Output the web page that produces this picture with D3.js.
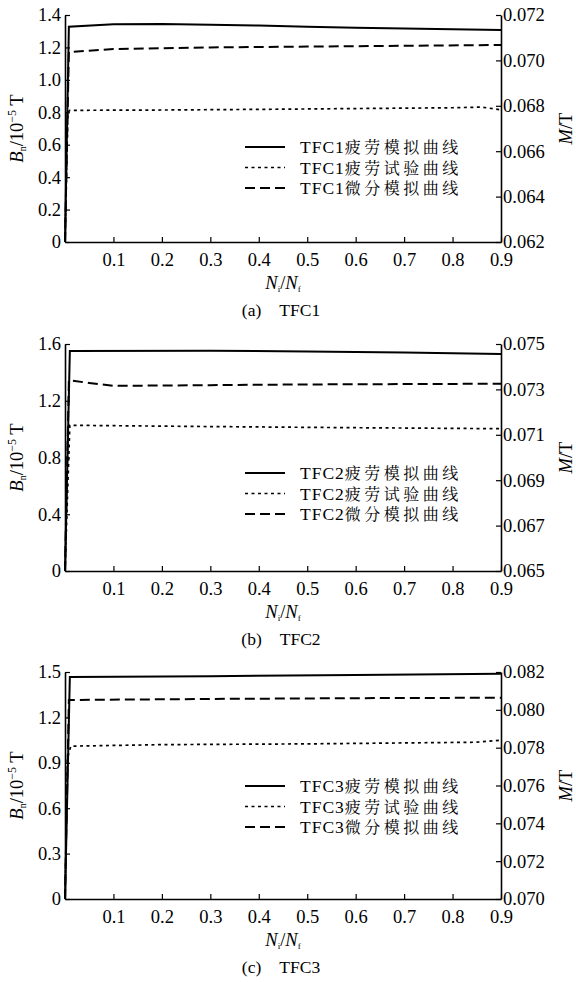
<!DOCTYPE html>
<html>
<head>
<meta charset="utf-8">
<script src="https://cdn.jsdelivr.net/npm/d3@7"></script>
<style>
  body { margin: 0; background: #fff; }
</style>
</head>
<body>
<div id="chart"></div>
<script>
// Shared x ticks (Ni/Nf)
const xTicks = [0.1, 0.2, 0.3, 0.4, 0.5, 0.6, 0.7, 0.8, 0.9];

// Panel labels
const panelLetters = ["(a)", "(b)", "(c)"];
const specimens = ["TFC1", "TFC2", "TFC3"];
const legendNames = ["疲劳模拟曲线", "疲劳试验曲线", "微分模拟曲线"];

// Left (Bn) and right (M/T) axis ticks per panel
const leftTicksA = [0, 0.2, 0.4, 0.6, 0.8, 1.0, 1.2, 1.4];
const rightTicksA = [0.062, 0.064, 0.066, 0.068, 0.070, 0.072];
const leftTicksB = [0, 0.4, 0.8, 1.2, 1.6];
const rightTicksB = [0.065, 0.067, 0.069, 0.071, 0.073, 0.075];
const leftTicksC = [0, 0.3, 0.6, 0.9, 1.2, 1.5];
const rightTicksC = [0.070, 0.072, 0.074, 0.076, 0.078, 0.080, 0.082];

// Curves [Ni/Nf, Bn]
const fatigueSimA = [[0, 0], [0.008, 1.328], [0.1, 1.343], [0.2, 1.345], [0.3, 1.34], [0.4, 1.335], [0.5, 1.328], [0.6, 1.322], [0.7, 1.317], [0.8, 1.312], [0.9, 1.307]];
const fatigueTestA = [[0, 0], [0.006, 0.80], [0.01, 0.812], [0.2, 0.814], [0.4, 0.818], [0.6, 0.823], [0.8, 0.828], [0.86, 0.832], [0.9, 0.815]];
const diffSimA = [[0, 0], [0.008, 1.172], [0.1, 1.19], [0.3, 1.20], [0.5, 1.205], [0.7, 1.21], [0.9, 1.215]];

const fatigueSimB = [[0, 0], [0.01, 1.55], [0.3, 1.552], [0.5, 1.548], [0.7, 1.54], [0.9, 1.53]];
const fatigueTestB = [[0, 0], [0.01, 1.027], [0.3, 1.018], [0.6, 1.01], [0.9, 1.003]];
const diffSimB = [[0, 0], [0.008, 1.345], [0.05, 1.325], [0.1, 1.305], [0.3, 1.31], [0.5, 1.315], [0.9, 1.32]];

const fatigueSimC = [[0, 0], [0.01, 1.467], [0.3, 1.472], [0.6, 1.48], [0.9, 1.489]];
const fatigueTestC = [[0, 0], [0.005, 0.93], [0.012, 1.01], [0.2, 1.02], [0.5, 1.025], [0.85, 1.036], [0.9, 1.05]];
const diffSimC = [[0, 0], [0.008, 1.315], [0.3, 1.322], [0.6, 1.327], [0.9, 1.33]];

// Panel config built from the arrays above
const panels = [
    { top: 15, left: leftTicksA, right: rightTicksA, series: [fatigueSimA, fatigueTestA, diffSimA], legendY: 132 },
    { top: 344, left: leftTicksB, right: rightTicksB, series: [fatigueSimB, fatigueTestB, diffSimB], legendY: 129 },
    { top: 672, left: leftTicksC, right: rightTicksC, series: [fatigueSimC, fatigueTestC, diffSimC], legendY: 114 }
];

// Line styles: solid, dotted, dashed
const styles = [
    { dash: null, width: 2 },
    { dash: "3,3.5", width: 1.7 },
    { dash: "10,5", width: 2 }
];

const SERIF = "'Liberation Serif', 'Times New Roman', Times, serif";
const CJK = "'Noto Serif CJK SC', 'Noto Sans CJK SC', serif";

const W = 576, H = 982;
const plotLeft = 65, plotRight = 501, plotH = 227;

const svg = d3.select("#chart")
    .append("svg")
    .attr("width", W)
    .attr("height", H)
    .attr("font-family", SERIF);

const xScale = d3.scaleLinear().domain([0, 0.9]).range([plotLeft, plotRight]);

function styleAxis(a) {
    a.attr("font-family", SERIF);
    a.selectAll("text").attr("font-family", SERIF).attr("font-size", 18.5);
}

panels.forEach(function(p, i) {
    const top = p.top;
    const bottom = top + plotH;
    const g = svg.append("g");

    const yLeft = d3.scaleLinear()
        .domain([0, d3.max(p.left)])
        .range([bottom, top]);
    const yRight = d3.scaleLinear()
        .domain(d3.extent(p.right))
        .range([bottom, top]);

    // X axis
    g.append("g")
        .attr("transform", `translate(0, ${bottom})`)
        .call(d3.axisBottom(xScale).tickValues(xTicks).tickSize(-5).tickSizeOuter(0)
            .tickPadding(11).tickFormat(d3.format(".1f")))
        .call(styleAxis);

    // Left axis
    g.append("g")
        .attr("transform", `translate(${plotLeft}, 0)`)
        .call(d3.axisLeft(yLeft).tickValues(p.left).tickSize(-5).tickSizeOuter(0)
            .tickPadding(4).tickFormat(d => d === 0 ? "0" : d3.format(".1f")(d)))
        .call(styleAxis);

    // Right axis
    g.append("g")
        .attr("transform", `translate(${plotRight}, 0)`)
        .call(d3.axisRight(yRight).tickValues(p.right).tickSize(-5).tickSizeOuter(0)
            .tickPadding(2).tickFormat(d3.format(".3f")))
        .call(styleAxis);

    g.selectAll(".domain").attr("stroke-width", 1.6);
    g.selectAll(".tick line").attr("stroke-width", 1.2);

    // Curves
    const line = d3.line()
        .x(d => xScale(d[0]))
        .y(d => yLeft(d[1]));

    p.series.forEach(function(s, k) {
        g.append("path")
            .datum(s)
            .attr("d", line)
            .attr("fill", "none")
            .attr("stroke", "#000")
            .attr("stroke-width", styles[k].width)
            .attr("stroke-dasharray", styles[k].dash);
    });

    // Legend
    legendNames.forEach(function(name, k) {
        const ly = top + p.legendY + k * 20.5;
        g.append("line")
            .attr("x1", 245).attr("x2", 285)
            .attr("y1", ly).attr("y2", ly)
            .attr("stroke", "#000")
            .attr("stroke-width", styles[k].width)
            .attr("stroke-dasharray", styles[k].dash);
        const t = g.append("text")
            .attr("x", 300)
            .attr("y", ly + 6)
            .attr("font-family", SERIF)
            .attr("font-size", 17.5);
        t.append("tspan").attr("letter-spacing", 1).text(specimens[i]);
        t.append("tspan").attr("letter-spacing", 3.5)
            .attr("font-family", CJK)
            .attr("font-size", 16)
            .text(name);
    });

    // Left axis title: Bn/10^-5 T
    const lt = g.append("text")
        .attr("transform", `translate(23, ${(top + bottom) / 2}) rotate(-90)`)
        .attr("text-anchor", "middle")
        .attr("font-family", SERIF)
        .attr("font-size", 18.5);
    lt.append("tspan").attr("font-style", "italic").text("B");
    lt.append("tspan").attr("font-size", 10).attr("dy", 3).text("n");
    lt.append("tspan").attr("dy", -3).text("/10");
    lt.append("tspan").attr("font-size", 12).attr("dy", -7).text("−5");
    lt.append("tspan").attr("dy", 7).text(" T");

    // Right axis title: M/T
    const rt = g.append("text")
        .attr("transform", `translate(572, ${(top + bottom) / 2}) rotate(-90)`)
        .attr("text-anchor", "middle")
        .attr("font-family", SERIF)
        .attr("font-size", 18.5);
    rt.append("tspan").attr("font-style", "italic").text("M");
    rt.append("tspan").text("/T");

    // X axis title: Ni/Nf
    const xt = g.append("text")
        .attr("x", (plotLeft + plotRight) / 2)
        .attr("y", bottom + 47)
        .attr("text-anchor", "middle")
        .attr("font-family", SERIF)
        .attr("font-size", 18.5);
    xt.append("tspan").attr("font-style", "italic").text("N");
    xt.append("tspan").attr("font-size", 9).attr("dy", 3).text("i");
    xt.append("tspan").attr("dy", -3).text("/");
    xt.append("tspan").attr("font-style", "italic").text("N");
    xt.append("tspan").attr("font-size", 9).attr("dy", 3).text("f");

    // Caption
    const ct = g.append("text")
        .attr("x", 281)
        .attr("y", bottom + 74)
        .attr("text-anchor", "middle")
        .attr("font-family", SERIF)
        .attr("font-size", 17.5);
    ct.append("tspan").text(panelLetters[i]);
    ct.append("tspan").attr("dx", 18).text(specimens[i]);
});
</script>
</body>
</html>
